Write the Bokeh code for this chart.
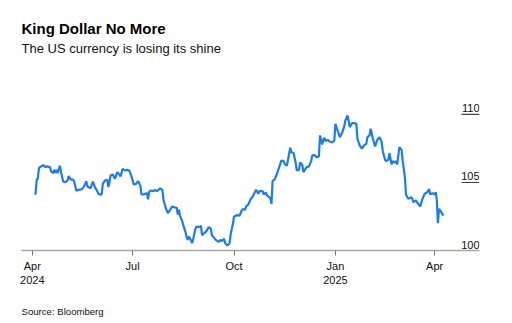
from datetime import datetime
from math import pi
import pandas as pd
from bokeh.plotting import figure
from bokeh.models import Range1d, FixedTicker, Title, ColumnDataSource, LinearAxis
from bokeh.core.properties import value
from bokeh.embed import file_html
from bokeh.resources import INLINE

# ---------------- data ----------------
dates = [
    "2024-04-03", "2024-04-04", "2024-04-05", "2024-04-06", "2024-04-07", "2024-04-09", "2024-04-11",
    "2024-04-13", "2024-04-14", "2024-04-17", "2024-04-18", "2024-04-20", "2024-04-21", "2024-04-22",
    "2024-04-23", "2024-04-24", "2024-04-26", "2024-04-27", "2024-04-29", "2024-05-01", "2024-05-03",
    "2024-05-04", "2024-05-06", "2024-05-08", "2024-05-09", "2024-05-11", "2024-05-13", "2024-05-16",
    "2024-05-18", "2024-05-20", "2024-05-21", "2024-05-23", "2024-05-24", "2024-05-26", "2024-05-28",
    "2024-05-29", "2024-05-31", "2024-06-02", "2024-06-03", "2024-06-04", "2024-06-06", "2024-06-08",
    "2024-06-09", "2024-06-10", "2024-06-11", "2024-06-13", "2024-06-15", "2024-06-17", "2024-06-19",
    "2024-06-20", "2024-06-22", "2024-06-24", "2024-06-26", "2024-06-28", "2024-06-30", "2024-07-02",
    "2024-07-04", "2024-07-06", "2024-07-08", "2024-07-09", "2024-07-11", "2024-07-14", "2024-07-15",
    "2024-07-16", "2024-07-17", "2024-07-20", "2024-07-21", "2024-07-23", "2024-07-26", "2024-07-28",
    "2024-07-29", "2024-07-31", "2024-08-02", "2024-08-04", "2024-08-06", "2024-08-07", "2024-08-10",
    "2024-08-11", "2024-08-12", "2024-08-13", "2024-08-15", "2024-08-16", "2024-08-18", "2024-08-19",
    "2024-08-20", "2024-08-21", "2024-08-23", "2024-08-24", "2024-08-25", "2024-08-27", "2024-08-28",
    "2024-08-30", "2024-09-01", "2024-09-02", "2024-09-04", "2024-09-06", "2024-09-08", "2024-09-10",
    "2024-09-11", "2024-09-13", "2024-09-15", "2024-09-17", "2024-09-19", "2024-09-20", "2024-09-22",
    "2024-09-23", "2024-09-24", "2024-09-25", "2024-09-27", "2024-09-28", "2024-09-30", "2024-10-01",
    "2024-10-04", "2024-10-06", "2024-10-08", "2024-10-09", "2024-10-11", "2024-10-12", "2024-10-14",
    "2024-10-16", "2024-10-18", "2024-10-21", "2024-10-23", "2024-10-24", "2024-10-27", "2024-10-28",
    "2024-10-30", "2024-10-31", "2024-11-02", "2024-11-03", "2024-11-04", "2024-11-05", "2024-11-07",
    "2024-11-08", "2024-11-09", "2024-11-11", "2024-11-13", "2024-11-15", "2024-11-16", "2024-11-18",
    "2024-11-20", "2024-11-21", "2024-11-22", "2024-11-24", "2024-11-26", "2024-11-27", "2024-11-29",
    "2024-11-30", "2024-12-02", "2024-12-03", "2024-12-05", "2024-12-06", "2024-12-08", "2024-12-10",
    "2024-12-11", "2024-12-13", "2024-12-15", "2024-12-17", "2024-12-18", "2024-12-20", "2024-12-21",
    "2024-12-22", "2024-12-23", "2024-12-25", "2024-12-27", "2024-12-29", "2024-12-31", "2025-01-01",
    "2025-01-03", "2025-01-05", "2025-01-07", "2025-01-09", "2025-01-10", "2025-01-12", "2025-01-14",
    "2025-01-16", "2025-01-18", "2025-01-20", "2025-01-21", "2025-01-23", "2025-01-25", "2025-01-27",
    "2025-01-29", "2025-01-30", "2025-02-01", "2025-02-02", "2025-02-04", "2025-02-06", "2025-02-08",
    "2025-02-10", "2025-02-12", "2025-02-13", "2025-02-15", "2025-02-16", "2025-02-18", "2025-02-19",
    "2025-02-21", "2025-02-22", "2025-02-24", "2025-02-25", "2025-02-26", "2025-02-28", "2025-03-02",
    "2025-03-03", "2025-03-05", "2025-03-06", "2025-03-08", "2025-03-10", "2025-03-11", "2025-03-13",
    "2025-03-15", "2025-03-17", "2025-03-19", "2025-03-21", "2025-03-23", "2025-03-25", "2025-03-27",
    "2025-03-28", "2025-03-30", "2025-04-01", "2025-04-02", "2025-04-03", "2025-04-04", "2025-04-05",
    "2025-04-07", "2025-04-09",
]
index_values = [
    104.14, 104.17, 105.22, 105.27, 106.05, 106.18, 106.27, 106.13, 106.18, 106.13, 105.83, 105.69,
    105.93, 105.71, 105.93, 105.69, 106.23, 105.81, 105.07, 105.02, 105.15, 105.47, 105.20, 105.22,
    105.07, 104.39, 104.46, 104.51, 104.71, 105.10, 104.71, 104.61, 104.61, 105.07, 104.61, 104.51,
    104.17, 104.09, 104.17, 104.90, 105.15, 105.20, 104.66, 105.02, 105.51, 105.59, 105.27, 105.76,
    105.59, 105.44, 106.01, 105.88, 105.93, 105.88, 105.44, 104.85, 104.90, 105.10, 104.78, 104.12,
    104.12, 104.22, 103.77, 104.29, 104.41, 104.36, 104.46, 104.36, 104.56, 104.46, 103.73, 103.14,
    102.75, 102.99, 103.24, 103.19, 103.14, 102.65, 102.99, 102.57, 102.16, 101.84, 101.35, 100.98,
    100.78, 101.03, 100.74, 100.54, 100.86, 101.59, 101.76, 101.72, 101.81, 101.13, 101.27, 101.42,
    101.72, 101.59, 101.10, 100.93, 100.74, 100.64, 100.78, 100.69, 100.86, 100.54, 100.44, 100.37,
    100.54, 101.23, 101.96, 102.50, 102.60, 102.55, 102.94, 103.04, 102.99, 103.24, 103.38, 103.77,
    103.97, 104.46, 104.17, 104.36, 104.36, 104.12, 104.26, 104.04, 103.92, 103.80, 103.43, 105.10,
    105.25, 105.44, 105.64, 106.13, 106.62, 106.57, 106.37, 106.23, 107.11, 107.55, 107.23, 107.16,
    106.42, 105.88, 105.93, 106.47, 106.27, 105.76, 106.03, 106.13, 106.18, 106.57, 106.99, 107.01,
    106.86, 106.91, 108.46, 107.79, 108.14, 108.28, 108.04, 108.14, 107.99, 107.94, 108.09, 109.31,
    108.82, 108.33, 108.63, 109.12, 109.56, 109.93, 109.07, 109.36, 109.36, 109.31, 108.21, 107.72,
    107.48, 107.72, 107.84, 108.33, 108.46, 108.95, 108.21, 107.65, 108.14, 108.33, 107.97, 107.30,
    106.67, 106.57, 106.67, 107.16, 106.32, 106.57, 106.47, 106.57, 106.32, 107.60, 107.40, 106.62,
    105.39, 104.12, 103.80, 103.87, 103.92, 103.55, 103.68, 103.43, 103.24, 103.80, 104.17, 104.26,
    104.51, 104.12, 104.22, 104.12, 104.29, 103.68, 102.01, 103.06, 102.82, 102.57,
]
x_tick_dates = ["2024-04-01", "2024-07-01", "2024-10-01", "2025-01-01", "2025-04-01"]
x_tick_labels = ["Apr\n2024", "Jul", "Oct", "Jan\n2025", "Apr"]
y_ticks = [100, 105, 110]
y_tick_labels = ["100", "105", "110"]

title_text = "King Dollar No More"
subtitle_text = "The US currency is losing its shine"
source_text = "Source: Bloomberg"

# ---------------- styling ----------------
FONT = "Liberation Sans"
LINE_COLOR = "#1a7cf5"
TEXT_COLOR = "#111111"
WIDTH, HEIGHT = 512, 323
BORDER_L, BORDER_R = 21, 33
SOURCE_SIZE_PX = 9.6
SOURCE_HALF_WIDTH_PX = 41.1   # half the rendered width of the source note

x_start = datetime(2024, 3, 22, 5)
x_end = datetime(2025, 5, 11, 17)

p = figure(
    width=WIDTH, height=HEIGHT,
    x_axis_type="datetime", y_axis_location=None,
    x_range=Range1d(x_start, x_end), y_range=Range1d(100, 114.26),
    toolbar_location=None, output_backend="svg",
    min_border_left=BORDER_L, min_border_right=BORDER_R, min_border_top=56, min_border_bottom=73,
)
p.outline_line_color = None
p.xgrid.grid_line_color = None
p.ygrid.grid_line_color = None
p.background_fill_color = "white"
p.border_fill_color = "white"

# titles: p.title is outermost, the added subtitle sits next to the frame
p.title.text = title_text
p.title.text_font = FONT
p.title.text_font_size = "15px"
p.title.text_font_style = "bold"
p.title.text_color = "#000000"
p.title.align = "left"
p.title.standoff = 2
p.add_layout(Title(text=subtitle_text, text_font=FONT, text_font_size="13px",
                   text_font_style="normal", text_color=TEXT_COLOR, align="left",
                   standoff=2), "above")

# x axis
tick_ms = [float(pd.Timestamp(d).value // 10**6) for d in x_tick_dates]
xa = p.xaxis[0]
xa.ticker = FixedTicker(ticks=tick_ms)
xa.major_label_overrides = {t: lab for t, lab in zip(tick_ms, x_tick_labels)}
xa.axis_line_color = "#a8a8a8"
xa.axis_line_width = 1.3
xa.major_tick_line_color = "#777777"
xa.major_tick_out = 5
xa.major_tick_in = 0
xa.minor_tick_line_color = None
xa.major_label_text_font = FONT
xa.major_label_text_font_size = "11px"
xa.major_label_text_color = TEXT_COLOR
xa.major_label_standoff = 4

# source note: a second, bare axis below whose single label starts at the frame's left edge
start_ms = pd.Timestamp(x_start).value / 1e6
end_ms = pd.Timestamp(x_end).value / 1e6
ms_per_px = (end_ms - start_ms) / (WIDTH - BORDER_L - BORDER_R)
note_tick = float(start_ms + SOURCE_HALF_WIDTH_PX * ms_per_px)
note_axis = LinearAxis(ticker=FixedTicker(ticks=[note_tick], minor_ticks=[]),
                       axis_line_color=None, major_tick_line_color=None,
                       minor_tick_line_color=None, major_tick_in=0, major_tick_out=0,
                       major_label_standoff=17,
                       major_label_overrides={note_tick: source_text},
                       major_label_text_font=FONT,
                       major_label_text_font_size=f"{SOURCE_SIZE_PX}px",
                       major_label_text_color=TEXT_COLOR)
p.add_layout(note_axis, "below")

# short right-hand tick marks for the y values, drawn inward from the frame edge
tick_src = ColumnDataSource(dict(x=[x_end] * (len(y_ticks) - 1), y=y_ticks[1:]))
p.ray("x", "y", source=tick_src, length=18, length_units="screen", angle=pi,
      line_color="#444444", line_width=1.2)

# line
src = ColumnDataSource(dict(x=pd.to_datetime(dates), y=index_values))
p.line("x", "y", source=src, line_width=2.2, line_color=LINE_COLOR)

# y tick labels sitting above their marks
lab_src = ColumnDataSource(dict(x=[x_end] * len(y_ticks), y=y_ticks, t=y_tick_labels))
p.text("x", "y", text="t", source=lab_src, text_align="right", text_baseline="alphabetic",
       y_offset=-6, text_font=value(FONT), text_font_size=value("11px"), text_color=TEXT_COLOR)

open("out.html", "w").write(file_html(p, INLINE))
